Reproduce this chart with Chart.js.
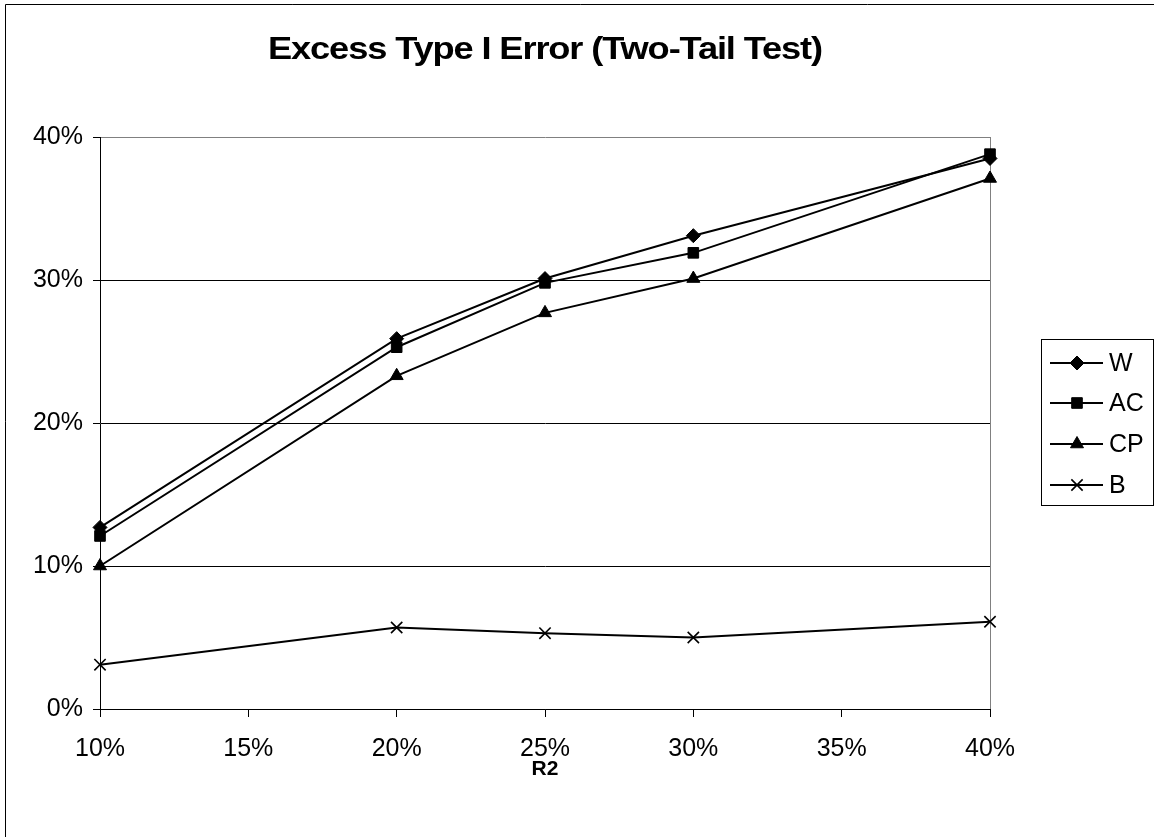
<!DOCTYPE html>
<html>
<head>
<meta charset="utf-8">
<title>Excess Type I Error (Two-Tail Test)</title>
<script src="https://cdn.jsdelivr.net/npm/chart.js@4.4.1/dist/chart.umd.min.js"></script>
<style>
  html, body { margin: 0; padding: 0; background: #fff; }
  #wrap { width: 1154px; height: 837px; position: relative; }
</style>
</head>
<body>
<div id="wrap"><canvas id="c" width="1154" height="837"></canvas></div>
<script>
// R2 levels (percent) on the horizontal axis
const r2Levels = [10, 20, 25, 30, 40];

// Excess type I error (percent) for each test statistic
const seriesW  = [12.7, 25.9, 30.1, 33.1, 38.5];
const seriesAC = [12.1, 25.3, 29.8, 31.9, 38.8];
const seriesCP = [10.0, 23.3, 27.7, 30.1, 37.1];
const seriesB  = [3.1, 5.7, 5.3, 5.0, 6.1];

const seriesNames = ['W', 'AC', 'CP', 'B'];
const markerStyles = ['rectRot', 'rect', 'triangle', 'crossRot'];

const chartTitle = 'Excess Type I Error (Two-Tail Test)';
const xAxisTitle = 'R2';

const FONT = '"Liberation Sans", Arial, Helvetica, sans-serif';
Chart.defaults.font.family = FONT;
Chart.defaults.color = '#000';

function toPoints(values) {
  return values.map((v, i) => ({ x: r2Levels[i], y: v }));
}

const allSeries = [seriesW, seriesAC, seriesCP, seriesB];
const markerRadius = [7, 7.5, 7.5, 8];

const datasets = allSeries.map((vals, i) => ({
  label: seriesNames[i],
  data: toPoints(vals),
  borderColor: '#000',
  borderWidth: 2,
  backgroundColor: '#000',
  pointStyle: markerStyles[i],
  pointRadius: markerRadius[i],
  pointHoverRadius: markerRadius[i],
  pointBackgroundColor: '#000',
  pointBorderColor: '#000',
  pointBorderWidth: markerStyles[i] === 'crossRot' ? 1.6 : 1,
  tension: 0,
  clip: false
}));

function drawMarker(ctx, style, radius, bw, x, y) {
  if (Chart.helpers && Chart.helpers.drawPoint) {
    ctx.fillStyle = '#000';
    ctx.strokeStyle = '#000';
    ctx.lineWidth = bw;
    Chart.helpers.drawPoint(ctx, { pointStyle: style, radius: radius, rotation: 0, borderWidth: bw }, x, y);
  }
}

// Outer frame, chart title, axis title and the boxed legend on the right
const decorations = {
  id: 'decorations',
  beforeDraw(chart) {
    const ctx = chart.ctx;
    ctx.save();
    ctx.fillStyle = '#fff';
    ctx.fillRect(0, 0, chart.width, chart.height);
    ctx.strokeStyle = '#000';
    ctx.lineWidth = 1;
    ctx.beginPath();
    ctx.moveTo(5.5, chart.height + 5);
    ctx.lineTo(5.5, 4.5);
    ctx.lineTo(chart.width + 5, 4.5);
    ctx.stroke();
    ctx.restore();
  },
  afterDraw(chart) {
    const ctx = chart.ctx;
    const area = chart.chartArea;
    const cx = (area.left + area.right) / 2;
    ctx.save();
    ctx.fillStyle = '#000';
    ctx.textAlign = 'center';
    ctx.textBaseline = 'alphabetic';

    // wide, tightly set bold title spanning the plot width
    ctx.font = 'bold 32px ' + FONT;
    if ('letterSpacing' in ctx) ctx.letterSpacing = '-1px';
    const tw = ctx.measureText(chartTitle).width;
    const sx = 554 / tw;
    ctx.save();
    ctx.translate(cx, 59);
    ctx.scale(sx, 1);
    ctx.fillText(chartTitle, 0, 0);
    ctx.restore();
    if ('letterSpacing' in ctx) ctx.letterSpacing = '0px';

    ctx.font = 'bold 21px ' + FONT;
    ctx.fillText(xAxisTitle, cx, 775);

    // legend box
    const bx = 1041.5, by = 339.5, bw = 112, bh = 166;
    ctx.strokeStyle = '#000';
    ctx.lineWidth = 1;
    ctx.strokeRect(bx, by, bw, bh);
    const rowY = [363, 403, 444, 485];
    chart.data.datasets.forEach((ds, i) => {
      const y = rowY[i];
      ctx.strokeStyle = '#000';
      ctx.lineWidth = 2;
      ctx.beginPath();
      ctx.moveTo(1050, y);
      ctx.lineTo(1103, y);
      ctx.stroke();
      drawMarker(ctx, ds.pointStyle, ds.pointRadius, ds.pointBorderWidth, 1077, y);
      ctx.fillStyle = '#000';
      ctx.font = '25px ' + FONT;
      ctx.textAlign = 'left';
      ctx.textBaseline = 'middle';
      ctx.fillText(ds.label, 1109, y + 1);
    });
    ctx.restore();
  }
};

new Chart(document.getElementById('c'), {
  type: 'line',
  data: { datasets: datasets },
  options: {
    responsive: false,
    animation: false,
    events: [],
    layout: { padding: { left: 0, top: 137, right: 164, bottom: 0 } },
    plugins: {
      legend: { display: false },
      title: { display: false },
      tooltip: { enabled: false }
    },
    scales: {
      x: {
        type: 'linear',
        min: 10,
        max: 40,
        ticks: {
          stepSize: 5,
          padding: 17,
          font: { size: 25 },
          color: '#000',
          callback: v => v + '%'
        },
        grid: {
          color: ctx => (ctx.tick && ctx.tick.value === 40) ? '#808080' : 'rgba(0,0,0,0)',
          lineWidth: 1,
          tickColor: '#000',
          tickLength: 8,
          drawTicks: true
        },
        border: { display: true, color: '#000', width: 1 },
        afterFit(scale) { scale.height = 128; }
      },
      y: {
        type: 'linear',
        min: 0,
        max: 40,
        ticks: {
          stepSize: 10,
          padding: 10,
          font: { size: 25 },
          color: '#000',
          callback: v => v + '%'
        },
        grid: {
          color: ctx => (ctx.tick && ctx.tick.value === 40) ? '#808080' : '#000',
          lineWidth: 1,
          tickColor: '#000',
          tickLength: 7,
          drawTicks: true
        },
        border: { display: true, color: '#000', width: 1 },
        afterFit(scale) { scale.width = 100; }
      }
    }
  },
  plugins: [decorations]
});
</script>
</body>
</html>
